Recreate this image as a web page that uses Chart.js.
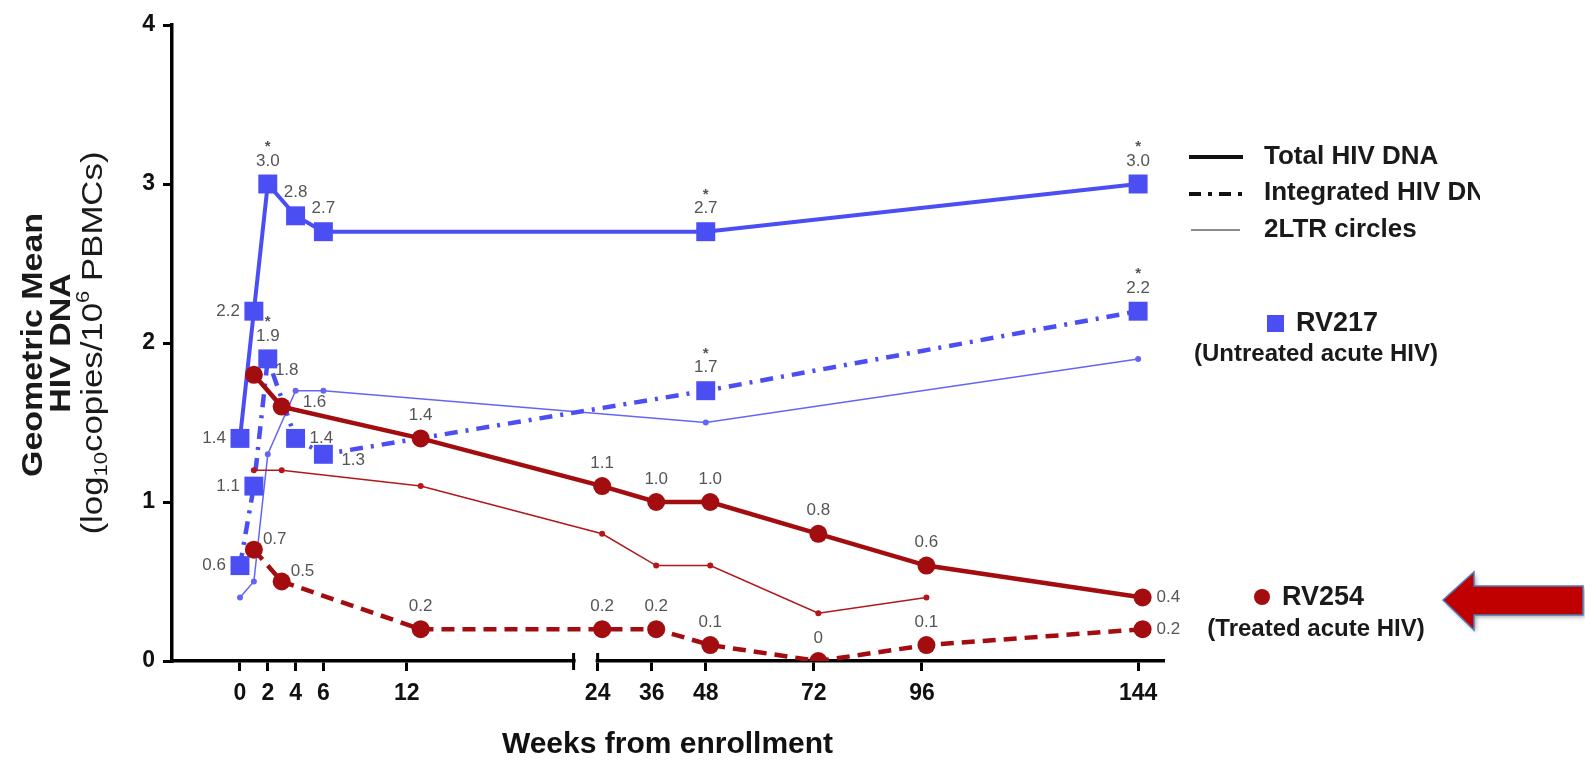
<!DOCTYPE html>
<html>
<head>
<meta charset="utf-8">
<script src="https://cdn.jsdelivr.net/npm/chart.js@4.4.1/dist/chart.umd.min.js"></script>
<style>
  html, body { margin: 0; padding: 0; background: #fff; }
  canvas { display: block; }
</style>
</head>
<body>
<canvas id="myChart" width="1585" height="760"></canvas>
<script>
// weeks (RV254 points sit about one week to the right)
var weeksRV217 = [0, 1, 2, 4, 6, 48, 144];
var totalRV217 = [1.4, 2.2, 3.0, 2.8, 2.7, 2.7, 3.0];
var integratedRV217 = [0.6, 1.1, 1.9, 1.4, 1.3, 1.7, 2.2];
var ltrRV217 = [0.4, 0.5, 1.3, 1.7, 1.7, 1.5, 1.9];
var starsRV217 = [0, 0, 1, 0, 0, 1, 1];

var weeksRV254 = [1, 3, 13, 25, 37, 49, 73, 97, 145];
var totalRV254 = [1.8, 1.6, 1.4, 1.1, 1.0, 1.0, 0.8, 0.6, 0.4];
var integratedRV254 = [0.7, 0.5, 0.2, 0.2, 0.2, 0.1, 0, 0.1, 0.2];
var ltrRV254 = [1.2, 1.2, 1.1, 0.8, 0.6, 0.6, 0.3, 0.4];

var weekTicks = [0, 2, 4, 6, 12, 24, 36, 48, 72, 96, 144];
var yTicks = [0, 1, 2, 3, 4];

var blue = '#4b4ef3';
var blueThin = '#6366f2';
var red = '#a30d10';
var redThin = '#b3171a';

// broken x axis: 0-24 on one scale, from 24 on compressed after the break
function pos(w) {
  return w < 24 ? w : 25.73 + (w - 24) * 0.324;
}
function pts(weeks, vals) {
  return vals.map(function(v, i) { return { x: pos(weeks[i]), y: v }; });
}
function fmt(v) { return v === 0 ? '0' : v.toFixed(1); }

var labelPlugin = {
  id: 'pointLabels',
  afterDatasetsDraw: function(chart) {
    var ctx = chart.ctx;
    ctx.save();
    ctx.fillStyle = '#555';
    ctx.textBaseline = 'middle';
    chart.data.datasets.forEach(function(ds, i) {
      if (!ds.labelPlace) return;
      var meta = chart.getDatasetMeta(i);
      meta.data.forEach(function(pt, j) {
        var place = ds.labelPlace[j];
        var x = pt.x, y = pt.y, align = 'center';
        if (place === 'l') { x -= 14; align = 'right'; }
        else if (place === 'a') { y -= 23; }
        else if (place === 'r') { x += 14; align = 'left'; }
        else if (place === 'ru') { x += 9; y -= 10; align = 'left'; }
        else if (place === 'ru2') { x += 21; y -= 4; align = 'left'; }
        else if (place === 'rd') { x += 18; y += 6; align = 'left'; }
        ctx.textAlign = align;
        ctx.font = '17px "Liberation Sans", Arial, sans-serif';
        ctx.fillText(fmt(ds.data[j].y), x, y);
        if (ds.stars && ds.stars[j]) {
          ctx.font = 'bold 15px "Liberation Sans", Arial, sans-serif';
          ctx.textAlign = 'center';
          ctx.fillText('*', x, y - 14);
        }
      });
    });
    ctx.restore();
  }
};

function stretchText(ctx, text, x, y, sx) {
  ctx.save();
  ctx.translate(x, y);
  ctx.scale(sx, 1);
  ctx.fillText(text, 0, 0);
  ctx.restore();
}

var decorPlugin = {
  id: 'decor',
  beforeDraw: function(chart) {
    var ctx = chart.ctx;
    ctx.save();
    ctx.fillStyle = '#fff';
    ctx.fillRect(0, 0, chart.width, chart.height);
    ctx.restore();
  },
  afterDraw: function(chart) {
    var ctx = chart.ctx;
    var xs = chart.scales.x;
    var yb = chart.chartArea.bottom;
    ctx.save();

    // axis break
    var x1 = xs.getPixelForValue(24);
    var x2 = xs.getPixelForValue(pos(24));
    ctx.fillStyle = '#fff';
    ctx.fillRect(x1 + 2, yb - 5, x2 - x1 - 4, 10);
    ctx.strokeStyle = '#000';
    ctx.lineWidth = 3;
    ctx.beginPath();
    ctx.moveTo(x1, yb - 8); ctx.lineTo(x1, yb + 9);
    ctx.moveTo(x2, yb - 8); ctx.lineTo(x2, yb);
    ctx.stroke();

    // y title, three rotated lines
    ctx.fillStyle = '#1a1a1a';
    ctx.textAlign = 'center';
    ctx.textBaseline = 'middle';
    ctx.save();
    ctx.translate(34, 345);
    ctx.rotate(-Math.PI / 2);
    ctx.font = 'bold 29px "Liberation Sans", Arial, sans-serif';
    stretchText(ctx, 'Geometric Mean', 0, 0, 1.17);
    ctx.restore();
    ctx.save();
    ctx.translate(62, 343);
    ctx.rotate(-Math.PI / 2);
    ctx.font = 'bold 29px "Liberation Sans", Arial, sans-serif';
    stretchText(ctx, 'HIV DNA', 0, 0, 1.17);
    ctx.restore();
    ctx.save();
    ctx.translate(94, 343);
    ctx.rotate(-Math.PI / 2);
    ctx.scale(1.16, 1);
    var runs = [
      ['(log', 30, 0], ['10', 19, 8], ['copies/10', 30, 0], ['6', 19, -10], [' PBMCs)', 30, 0]
    ];
    var total = 0;
    runs.forEach(function(r) {
      ctx.font = r[1] + 'px "Liberation Sans", Arial, sans-serif';
      total += ctx.measureText(r[0]).width;
    });
    var cx = -total / 2;
    ctx.textAlign = 'left';
    runs.forEach(function(r) {
      ctx.font = r[1] + 'px "Liberation Sans", Arial, sans-serif';
      ctx.fillText(r[0], cx, r[2]);
      cx += ctx.measureText(r[0]).width;
    });
    ctx.restore();

    // legend: line styles
    ctx.lineCap = 'butt';
    ctx.strokeStyle = '#111';
    ctx.lineWidth = 4;
    ctx.beginPath(); ctx.moveTo(1189, 157); ctx.lineTo(1243, 157); ctx.stroke();
    ctx.setLineDash([12, 7, 4, 7]);
    ctx.beginPath(); ctx.moveTo(1189, 194); ctx.lineTo(1243, 194); ctx.stroke();
    ctx.setLineDash([]);
    ctx.strokeStyle = '#666';
    ctx.lineWidth = 1.5;
    ctx.beginPath(); ctx.moveTo(1191, 230); ctx.lineTo(1240, 230); ctx.stroke();

    ctx.fillStyle = '#1a1a1a';
    ctx.textAlign = 'left';
    ctx.font = 'bold 26px "Liberation Sans", Arial, sans-serif';
    ctx.fillText('Total HIV DNA', 1264, 157);
    ctx.save();
    ctx.beginPath(); ctx.rect(1200, 170, 280, 45); ctx.clip();
    ctx.fillText('Integrated HIV DNA', 1264, 193);
    ctx.restore();
    ctx.fillText('2LTR circles', 1264, 230);

    // legend: cohorts
    ctx.fillStyle = blue;
    ctx.fillRect(1267, 315, 17, 17);
    ctx.fillStyle = red;
    ctx.beginPath(); ctx.arc(1262, 597, 8, 0, Math.PI * 2); ctx.fill();
    ctx.fillStyle = '#1a1a1a';
    ctx.font = 'bold 27px "Liberation Sans", Arial, sans-serif';
    ctx.fillText('RV217', 1296, 324);
    ctx.fillText('RV254', 1282, 598);
    ctx.textAlign = 'center';
    ctx.font = 'bold 24px "Liberation Sans", Arial, sans-serif';
    ctx.fillText('(Untreated acute HIV)', 1316, 354);
    ctx.fillText('(Treated acute HIV)', 1316, 629);

    // arrow
    ctx.shadowColor = 'rgba(0,0,0,0.35)';
    ctx.shadowBlur = 4;
    ctx.shadowOffsetX = 2;
    ctx.shadowOffsetY = 2;
    ctx.fillStyle = '#c00000';
    ctx.strokeStyle = '#4a7ebb';
    ctx.lineWidth = 1.5;
    ctx.beginPath();
    ctx.moveTo(1443, 600);
    ctx.lineTo(1474, 572);
    ctx.lineTo(1474, 586);
    ctx.lineTo(1583, 586);
    ctx.lineTo(1583, 615);
    ctx.lineTo(1474, 615);
    ctx.lineTo(1474, 630);
    ctx.closePath();
    ctx.fill();
    ctx.shadowColor = 'transparent';
    ctx.stroke();
    ctx.restore();
  }
};

var myChart = new Chart(document.getElementById('myChart'), {
  type: 'line',
  data: {
    datasets: [
      {
        label: 'RV254 Total HIV DNA',
        data: pts(weeksRV254, totalRV254),
        borderColor: red, backgroundColor: red, borderWidth: 4.5,
        pointStyle: 'circle', pointRadius: 9, pointBorderWidth: 0,
        labelPlace: ['ru2', 'ru2', 'a', 'a', 'a', 'a', 'a', 'a', 'r']
      },
      {
        label: 'RV254 Integrated HIV DNA',
        data: pts(weeksRV254, integratedRV254),
        borderColor: red, backgroundColor: red, borderWidth: 4.5,
        borderDash: [13, 8],
        pointStyle: 'circle', pointRadius: 9, pointBorderWidth: 0,
        labelPlace: ['ru', 'ru', 'a', 'a', 'a', 'a', 'a', 'a', 'r']
      },
      {
        label: 'RV254 2LTR circles',
        data: pts(weeksRV254, ltrRV254),
        borderColor: redThin, backgroundColor: redThin, borderWidth: 1.5,
        pointStyle: 'circle', pointRadius: 3, pointBorderWidth: 0
      },
      {
        label: 'RV217 Total HIV DNA',
        data: pts(weeksRV217, totalRV217),
        borderColor: blue, backgroundColor: blue, borderWidth: 4,
        pointStyle: 'rect', pointRadius: 13.4, pointBorderWidth: 0,
        labelPlace: ['l', 'l', 'a', 'a', 'a', 'a', 'a'],
        stars: starsRV217
      },
      {
        label: 'RV217 Integrated HIV DNA',
        data: pts(weeksRV217, integratedRV217),
        borderColor: blue, backgroundColor: blue, borderWidth: 4.5,
        borderDash: [13, 8, 3, 8],
        pointStyle: 'rect', pointRadius: 13.4, pointBorderWidth: 0,
        labelPlace: ['l', 'l', 'a', 'r', 'rd', 'a', 'a'],
        stars: starsRV217
      },
      {
        label: 'RV217 2LTR circles',
        data: pts(weeksRV217, ltrRV217),
        borderColor: blueThin, backgroundColor: blueThin, borderWidth: 1.5,
        pointStyle: 'circle', pointRadius: 3, pointBorderWidth: 0
      }
    ]
  },
  options: {
    responsive: false,
    animation: false,
    devicePixelRatio: 1,
    layout: { padding: { left: 0, top: 25, right: 422, bottom: 0 } },
    elements: { line: { tension: 0 } },
    plugins: {
      legend: { display: false },
      tooltip: { enabled: false }
    },
    scales: {
      x: {
        type: 'linear',
        min: -4.89,
        max: 66.4,
        afterFit: function(s) { s.height = 99; },
        afterBuildTicks: function(s) {
          s.ticks = weekTicks.map(function(w) { return { value: pos(w) }; });
        },
        ticks: {
          autoSkip: false,
          maxRotation: 0,
          padding: 9,
          color: '#111',
          font: { family: '"Liberation Sans", Arial, sans-serif', size: 23, weight: 'bold' },
          callback: function(v, i) { return weekTicks[i]; }
        },
        grid: {
          display: true, drawOnChartArea: false, drawTicks: true,
          tickLength: 10, tickWidth: 3, tickColor: '#000', color: '#000', lineWidth: 3
        },
        border: { display: true, color: '#000', width: 3.5 },
        title: {
          display: true,
          text: 'Weeks from enrollment',
          color: '#111',
          padding: { top: 0, bottom: 0 },
          font: { family: '"Liberation Sans", Arial, sans-serif', size: 30, weight: 'bold', lineHeight: 1 }
        }
      },
      y: {
        min: 0,
        max: 4,
        afterFit: function(s) { s.width = 172; },
        afterBuildTicks: function(s) {
          s.ticks = yTicks.map(function(v) { return { value: v }; });
        },
        ticks: {
          padding: 8,
          color: '#111',
          font: { family: '"Liberation Sans", Arial, sans-serif', size: 23, weight: 'bold' }
        },
        grid: {
          display: true, drawOnChartArea: false, drawTicks: true,
          tickLength: 9, tickWidth: 3, tickColor: '#000', color: '#000', lineWidth: 3
        },
        border: { display: true, color: '#000', width: 3.5 }
      }
    }
  },
  plugins: [decorPlugin, labelPlugin]
});
</script>
</body>
</html>
